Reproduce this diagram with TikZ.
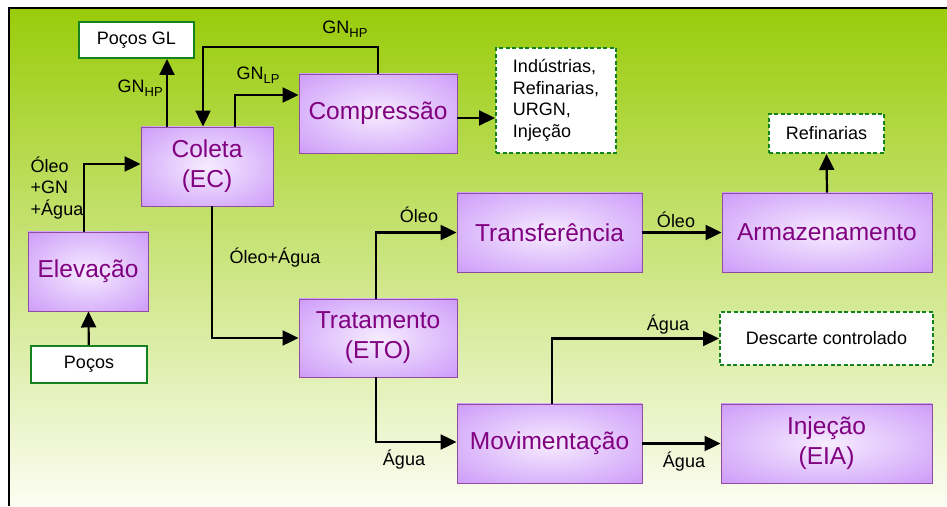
\documentclass[tikz,border=0pt]{standalone}
\usepackage{fontspec}
\setmainfont{Liberation Sans}
\usetikzlibrary{arrows.meta}

% palette
\definecolor{bgtop}{RGB}{153,204,10}
\definecolor{bgmid}{RGB}{196,226,110}
\definecolor{bgbot}{RGB}{252,253,242}
\definecolor{boxin}{RGB}{246,236,255}
\definecolor{boxout}{RGB}{200,145,248}
\definecolor{boxedge}{RGB}{145,75,160}
\definecolor{boxtext}{RGB}{128,0,128}
\definecolor{srcgreen}{RGB}{20,130,30}

% soft glow used inside the process boxes
\pgfdeclareradialshading{boxglow}{\pgfpointorigin}{%
  color(0bp)=(boxin); color(40bp)=(boxout); color(50bp)=(boxout)}

\newcommand{\gnsub}[1]{GN\raisebox{-4.5pt}{\fontsize{13}{13}\selectfont #1}}

\tikzset{
  stage/.style={draw=boxedge, line width=0.9pt, shade, shading=boxglow,
    text=boxtext, font=\fontsize{24.5}{30}\selectfont, align=center, inner sep=0pt},
  source/.style={draw=srcgreen, line width=2pt, fill=white,
    font=\fontsize{18}{21.5}\selectfont, inner sep=0pt},
  sink/.style={draw=srcgreen, line width=2pt, dash pattern=on 4pt off 2.5pt,
    fill=white, font=\fontsize{18}{21.5}\selectfont, align=left, inner sep=0pt},
  flow/.style={line width=2.2pt, -{Triangle[length=16pt,width=15pt]}},
  tag/.style={font=\fontsize{18}{21.5}\selectfont, inner sep=0pt, align=left}
}

\begin{document}
\begin{tikzpicture}[x=1pt, y=1pt]
\useasboundingbox (0,0) rectangle (947,506);

% backdrop and frame
\shade[top color=bgtop, middle color=bgmid, bottom color=bgbot] (9,0) rectangle (947,498);
\draw[line width=2.5pt] (947,498) -- (9,498) -- (9,0);

% process stages
\node[stage, minimum width=132pt, minimum height=79pt] (coleta) at (207,339.5) {Coleta\\(EC)};
\node[stage, minimum width=158pt, minimum height=79pt] (compressao) at (378,392.5) {Compressão};
\node[stage, minimum width=120pt, minimum height=79pt] (elevacao) at (88,234.5) {Elevação};
\node[stage, minimum width=158pt, minimum height=78pt] (tratamento) at (378,168) {Tratamento\\(ETO)};
\node[stage, minimum width=185pt, minimum height=79pt] (transf) at (549.5,273.5) {Transferência};
\node[stage, minimum width=210pt, minimum height=79pt] (armaz) at (827,273.5) {Armazenamento};
\node[stage, minimum width=185pt, minimum height=79pt] (movim) at (549.5,62.5) {Movimentação};
\node[stage, minimum width=211pt, minimum height=79pt] (injecao) at (826.5,62.5) {Injeção\\(EIA)};

% sources
\node[source, minimum width=115pt, minimum height=36pt] (pocosgl) at (136.5,466) {Poços GL};
\node[source, minimum width=116pt, minimum height=37pt] (pocos) at (89,141.5) {Poços};

% destinations
\node[sink, minimum width=120pt, minimum height=105pt] (destino) at (556,405.5)
  {Indústrias,\\Refinarias,\\URGN,\\Injeção};
\node[sink, minimum width=115pt, minimum height=39pt] (refin) at (826.5,372.5) {Refinarias};
\node[sink, minimum width=213pt, minimum height=53pt] (descarte) at (826.5,167.5) {Descarte controlado};

% flows
\draw[flow] (pocos) -- (elevacao);
\draw[flow] ([xshift=-4pt]elevacao.north) |- ([yshift=2.5pt]coleta.west);
\draw[flow] ([xshift=-40pt]coleta.north) coordinate (gl) -- (gl |- pocosgl.south);
\draw[flow] (compressao.north) -- ++(0,26.3) -| ([xshift=-4pt]coleta.north);
\draw[flow] ([xshift=28pt]coleta.north) |- ([yshift=18.5pt]compressao.west);
\draw[flow] ([yshift=-4.5pt]compressao.east) -- ([yshift=-4.5pt]compressao.east -| destino.west);
\draw[flow] ([xshift=5pt]coleta.south) |- (tratamento.west);
\draw[flow] ([xshift=-2pt]tratamento.north) |- (transf.west);
\draw[flow] ([xshift=-2pt]tratamento.south) |- ([yshift=1.5pt]movim.west);
\draw[flow] (transf.east) -- (armaz.west);
\draw[flow] (armaz.north) -- (refin.south);
\draw[flow] ([xshift=2.5pt]movim.north) |- (descarte.west);
\draw[flow] (movim.east) -- (injecao.west);

% flow labels
\node[tag] (lmix) at (57,318) {Óleo\\+GN\\+Água};
\node[tag, anchor=east] (lhp1) at (163,418) {\gnsub{HP}};
\node[tag] (lhp2) at (345,477) {\gnsub{HP}};
\node[tag] (llp) at (258,431) {\gnsub{LP}};
\node[tag] (loa) at (275,248) {Óleo+Água};
\node[tag] (lo1) at (419,291) {Óleo};
\node[tag] (lo2) at (676,286) {Óleo};
\node[tag] (la1) at (404,46) {Água};
\node[tag] (la2) at (684,44) {Água};
\node[tag] (la3) at (668,181) {Água};
\end{tikzpicture}
\end{document}
